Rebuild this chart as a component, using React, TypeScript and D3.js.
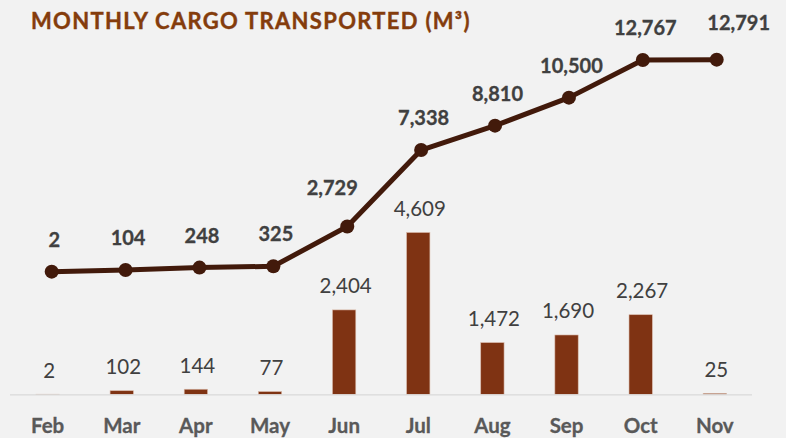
import React from "react";
import * as d3 from "d3";

const months = ["Feb", "Mar", "Apr", "May", "Jun", "Jul", "Aug", "Sep", "Oct", "Nov"];
const monthly = [2, 102, 144, 77, 2404, 4609, 1472, 1690, 2267, 25];
const cumulative = [2, 104, 248, 325, 2729, 7338, 8810, 10500, 12767, 12791];
const title = "MONTHLY CARGO TRANSPORTED (M³)";

// manual label nudges (layout only)
const lineLabelDx: Record<string, number> = { Jun: -15, Nov: 22 };
const lineLabelDy: Record<string, number> = { Jun: -31, Nov: -30 };

const W = 786;
const H = 438;
const FONT = "Lato, 'Open Sans', sans-serif";

export default function App() {
  const barX = d3.scalePoint<string>().domain(months).range([47.6, 714.8]);
  const lineX = d3.scalePoint<string>().domain(months).range([51.7, 716.7]);
  const barY = d3.scaleLinear().domain([0, 5000]).range([394.3, 218.8]);
  const lineY = d3.scaleLinear().domain([0, 14000]).range([271.7, 39.6]);
  const barW = 23.3;

  const line = d3
    .line<number>()
    .x((_, i) => lineX(months[i]) as number)
    .y((d) => lineY(d));

  return (
    <svg
      width={W}
      height={H}
      style={{ position: "fixed", left: 0, top: 0, display: "block" }}
      fontFamily={FONT}
    >
      <rect width={W} height={H} fill="#f2f2f2" />
      <text
        x={31}
        y={28.5}
        fontSize={22}
        fontWeight={700}
        letterSpacing={1.3}
        fill="#843c0c"
        stroke="#843c0c"
        strokeWidth={0.4}
      >
        {title}
      </text>

      {monthly.map((v, i) => {
        const cx = barX(months[i]) as number;
        const y = barY(v);
        return (
          <g key={"b" + i}>
            <rect
              x={cx - barW / 2}
              y={y}
              width={barW}
              height={barY(0) - y}
              fill="#7f3313"
              stroke="#d8b8a8"
              strokeWidth={0.6}
            />
            <text
              x={cx + 1.5}
              y={y - 16.5}
              textAnchor="middle"
              fontSize={20.5}
              fill="#404040"
            >
              {d3.format(",")(v)}
            </text>
          </g>
        );
      })}

      <line x1={10} x2={752} y1={394.8} y2={394.8} stroke="#d9d9d9" strokeWidth={1.2} />

      {months.map((m) => (
        <text
          key={"m" + m}
          x={barX(m) as number}
          y={433}
          textAnchor="middle"
          fontSize={20.5}
          fontWeight={700}
          fill="#595959"
          stroke="#595959"
          strokeWidth={0.3}
        >
          {m}
        </text>
      ))}

      <path d={line(cumulative) || ""} fill="none" stroke="#421a0b" strokeWidth={5} strokeLinejoin="round" />
      {cumulative.map((v, i) => {
        const m = months[i];
        const cx = lineX(m) as number;
        const cy = lineY(v);
        return (
          <g key={"p" + i}>
            <circle cx={cx} cy={cy} r={7} fill="#421a0b" />
            <text
              x={cx + (lineLabelDx[m] ?? 2.5)}
              y={cy + (lineLabelDy[m] ?? -25)}
              textAnchor="middle"
              fontSize={20}
              fontWeight={700}
              fill="#404040"
              stroke="#404040"
              strokeWidth={0.3}
            >
              {d3.format(",")(v)}
            </text>
          </g>
        );
      })}
    </svg>
  );
}
